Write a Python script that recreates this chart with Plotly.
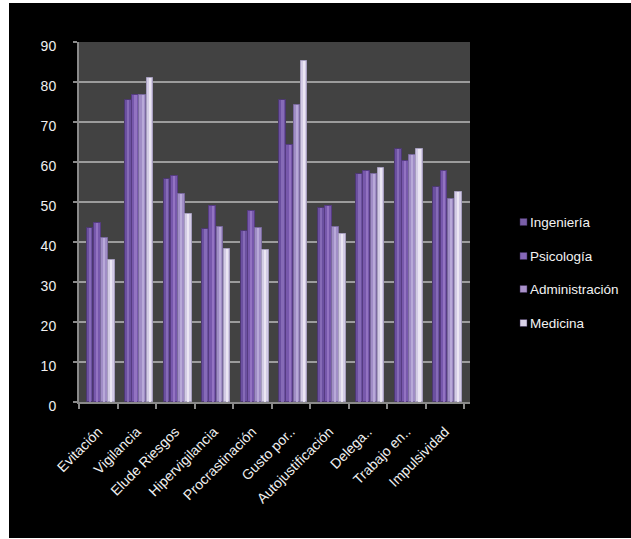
import plotly.graph_objects as go

# Categorías del cuestionario (eje X)
categorias = ["Evitación", "Vigilancia", "Elude Riesgos", "Hipervigilancia", "Procrastinación",
              "Gusto por..", "Autojustificación", "Delega..", "Trabajo en..", "Impulsividad"]

# Puntajes medios por carrera
ingenieria = [43.4, 75.5, 55.7, 43.2, 42.8, 75.5, 48.4, 56.9, 63.2, 53.8]
psicologia = [44.7, 76.7, 56.5, 49.0, 47.7, 64.2, 49.0, 57.7, 60.2, 57.7]
administracion = [40.9, 76.7, 52.1, 43.7, 43.6, 74.2, 43.7, 56.9, 61.7, 50.7]
medicina = [35.5, 80.9, 47.1, 38.2, 38.1, 85.2, 42.0, 58.5, 63.2, 52.5]

series = ["Ingeniería", "Psicología", "Administración", "Medicina"]
valores = [ingenieria, psicologia, administracion, medicina]

y_ticks = list(range(0, 91, 10))

# Tonos de cada cilindro: borde, cuerpo, brillo
tonos = [
    ("#4c3870", "#6b50a0", "#8b70bb"),
    ("#563c82", "#7758ac", "#9878c6"),
    ("#7a6a9e", "#a08dc6", "#bcaedb"),
    ("#a69ebe", "#d3cbe5", "#efebf6"),
]
legend_colors = ["#7a5fa8", "#8668b8", "#a991c9", "#d9d2e8"]

W, H = 631, 539
PL, PR, PT, PB = 79, 470, 42, 402


def px_x(px):
    return (px - PL) / (PR - PL)


def px_y(py):
    return (PB - py) / (PB - PT)


ancho = 0.175
paso = 0.185
inicio = -0.30

fig = go.Figure()
for i, (nombre, vals) in enumerate(zip(series, valores)):
    borde, cuerpo, brillo = tonos[i]
    off = inicio + i * paso
    fig.add_trace(go.Bar(
        x=categorias, y=vals, name=nombre, offset=off, width=ancho,
        marker=dict(color=cuerpo, line=dict(color=borde, width=1)),
        showlegend=False,
    ))
    # franja de brillo del cilindro
    fig.add_trace(go.Bar(
        x=categorias, y=vals, name=nombre, offset=off + 0.055, width=0.055,
        marker=dict(color=brillo, line=dict(width=0), opacity=0.85),
        showlegend=False, hoverinfo="skip",
    ))

shapes = []
# marco blanco exterior
for x0, x1, y0, y1 in [(0, 9, 539, 0), (0, 631, 3, 0), (0, 631, 539, 538)]:
    shapes.append(dict(type="rect", xref="paper", yref="paper",
                       x0=px_x(x0), x1=px_x(x1), y0=px_y(y0), y1=px_y(y1),
                       fillcolor="white", line=dict(width=0), layer="below"))

annotations = []
leg_y = [222, 256, 289, 323]
for nombre, col, ly in zip(series, legend_colors, leg_y):
    shapes.append(dict(type="rect", xref="paper", yref="paper",
                       x0=px_x(520), x1=px_x(527), y0=px_y(ly + 3.5), y1=px_y(ly - 3.5),
                       fillcolor=col, line=dict(color="#3a2a55", width=0.5)))
    annotations.append(dict(xref="paper", yref="paper", x=px_x(527.5), y=px_y(ly),
                            xanchor="left", yanchor="middle", showarrow=False,
                            text=nombre,
                            font=dict(family="Liberation Sans, Arial, sans-serif",
                                      size=13.5, color="#f2f2f2")))

fig.update_layout(
    width=W, height=H,
    margin=dict(l=PL, r=W - PR, t=PT, b=H - PB, pad=0),
    paper_bgcolor="black",
    plot_bgcolor="#424242",
    barmode="overlay",
    bargap=0,
    showlegend=False,
    shapes=shapes,
    annotations=annotations,
    font=dict(family="Liberation Sans, Arial, sans-serif", color="#f0f0f0"),
)

fig.update_xaxes(
    type="category", range=[-0.5, 9.65],
    tickson="boundaries", ticks="outside", ticklen=5, tickcolor="#8a8a8a", tickwidth=1.5,
    showline=True, linecolor="#8a8a8a", linewidth=2,
    showgrid=False, tickangle=-45, ticklabelstandoff=14,
    tickfont=dict(size=14, color="#f0f0f0"),
)
fig.update_yaxes(
    range=[0, 90], tickvals=y_ticks, ticktext=[str(v) for v in y_ticks],
    ticks="outside", ticklen=4, tickcolor="#8a8a8a", tickwidth=1.5,
    showline=True, linecolor="#8a8a8a", linewidth=2,
    showgrid=True, gridcolor="#9c9c9c", gridwidth=2,
    zeroline=False, ticklabelstandoff=14, ticklabelshift=4,
    tickfont=dict(size=14, color="#f0f0f0"),
)

fig.write_html("out.html")
